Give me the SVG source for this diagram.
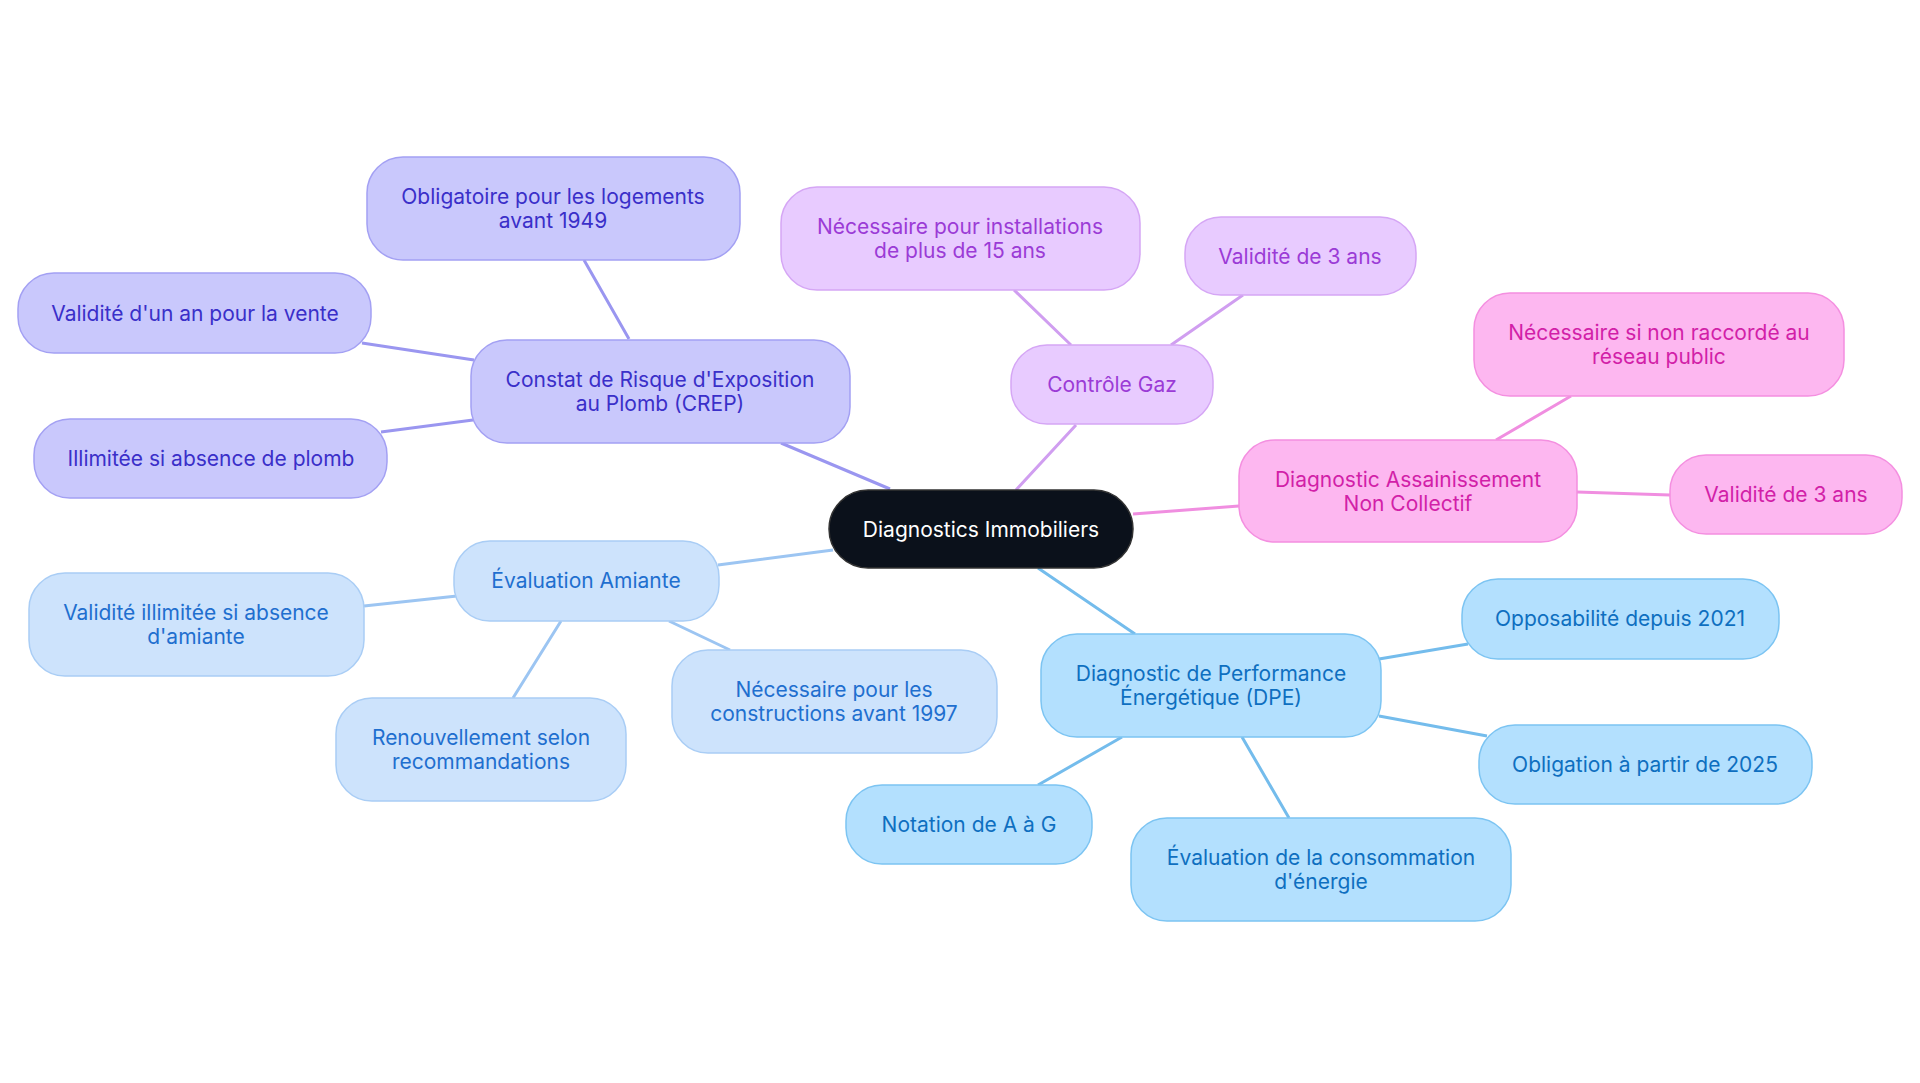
<svg xmlns="http://www.w3.org/2000/svg" width="1920" height="1083" viewBox="0 0 1920 1083">
<style>
text{font-family:Inter,"Noto Sans",sans-serif;font-size:21px;text-anchor:middle;dominant-baseline:central}
.e{fill:none;stroke-width:3}
.a rect{fill:#c9c8fc;stroke:#a3a0f3;stroke-width:1.5}.a text{fill:#3a2fc9}
.g rect{fill:#e8cbff;stroke:#d5a6f5;stroke-width:1.5}.g text{fill:#9b3bd6}
.p rect{fill:#fdb7f0;stroke:#f48fe0;stroke-width:1.5}.p text{fill:#d21fa8}
.m rect{fill:#cde3fc;stroke:#a9cdf5;stroke-width:1.5}.m text{fill:#1f6fcf}
.d rect{fill:#b3e0fe;stroke:#7cc4f2;stroke-width:1.5}.d text{fill:#0e6fc0}
</style>
<rect width="1920" height="1083" fill="#fff"/>
<g id="connectors">
<g stroke="#9a96f0" class="e"><path d="M890 489L781 443M629 339L584 260M474 360L362 343M473 420L381 432" class="e"/></g>
<g stroke="#d09ef0"><path d="M1016 490L1076 425M1071 345L1014 290M1171 345L1243 295" class="e"/></g>
<g stroke="#f08ee0"><path d="M1133 514L1239 506M1496 440L1571 396M1577 492L1670 495" class="e"/></g>
<g stroke="#9cc5f2"><path d="M833 550L718 565M457 596L364 606M561 621L513 698M669 621L730 650" class="e"/></g>
<g stroke="#74bcec"><path d="M1038 568L1135 634M1379 659L1468 644M1379 716L1487 736M1122 737L1038 785M1242 737L1289 818" class="e"/></g>
</g>
<g id="center"><rect x="829" y="490" width="304" height="78" rx="39" fill="#0b111b" stroke="#333" stroke-width="1.5"/><text x="981" y="529" fill="#fff" font-size="22">Diagnostics Immobiliers</text></g>
<g id="crep" class="a"><rect x="471" y="340" width="379" height="103" rx="36"/><text x="660" y="379">Constat de Risque d'Exposition</text><text x="660" y="403">au Plomb (CREP)</text></g>
<g id="crep1" class="a"><rect x="367" y="157" width="373" height="103" rx="36"/><text x="553" y="196">Obligatoire pour les logements</text><text x="553" y="220">avant 1949</text></g>
<g id="crep2" class="a"><rect x="18" y="273" width="353" height="80" rx="36"/><text x="195" y="313">Validité d'un an pour la vente</text></g>
<g id="crep3" class="a"><rect x="34" y="419" width="353" height="79" rx="36"/><text x="211" y="458">Illimitée si absence de plomb</text></g>
<g id="gaz" class="g"><rect x="1011" y="345" width="202" height="79" rx="36"/><text x="1112" y="384">Contrôle Gaz</text></g>
<g id="gaz1" class="g"><rect x="781" y="187" width="359" height="103" rx="36"/><text x="960" y="226">Nécessaire pour installations</text><text x="960" y="250">de plus de 15 ans</text></g>
<g id="gaz2" class="g"><rect x="1185" y="217" width="231" height="78" rx="36"/><text x="1300" y="256">Validité de 3 ans</text></g>
<g id="anc" class="p"><rect x="1239" y="440" width="338" height="102" rx="36"/><text x="1408" y="479">Diagnostic Assainissement</text><text x="1408" y="503">Non Collectif</text></g>
<g id="anc1" class="p"><rect x="1474" y="293" width="370" height="103" rx="36"/><text x="1659" y="332">Nécessaire si non raccordé au</text><text x="1659" y="356">réseau public</text></g>
<g id="anc2" class="p"><rect x="1670" y="455" width="232" height="79" rx="36"/><text x="1786" y="494">Validité de 3 ans</text></g>
<g id="amiante" class="m"><rect x="454" y="541" width="265" height="80" rx="36"/><text x="586" y="580">Évaluation Amiante</text></g>
<g id="am1" class="m"><rect x="29" y="573" width="335" height="103" rx="36"/><text x="196" y="612">Validité illimitée si absence</text><text x="196" y="636">d'amiante</text></g>
<g id="am2" class="m"><rect x="336" y="698" width="290" height="103" rx="36"/><text x="481" y="737">Renouvellement selon</text><text x="481" y="761">recommandations</text></g>
<g id="am3" class="m"><rect x="672" y="650" width="325" height="103" rx="36"/><text x="834" y="689">Nécessaire pour les</text><text x="834" y="713">constructions avant 1997</text></g>
<g id="dpe" class="d"><rect x="1041" y="634" width="340" height="103" rx="36"/><text x="1211" y="673">Diagnostic de Performance</text><text x="1211" y="697">Énergétique (DPE)</text></g>
<g id="dpe1" class="d"><rect x="1462" y="579" width="317" height="80" rx="36"/><text x="1620" y="618">Opposabilité depuis 2021</text></g>
<g id="dpe2" class="d"><rect x="1479" y="725" width="333" height="79" rx="36"/><text x="1645" y="764">Obligation à partir de 2025</text></g>
<g id="dpe3" class="d"><rect x="846" y="785" width="246" height="79" rx="36"/><text x="969" y="824">Notation de A à G</text></g>
<g id="dpe4" class="d"><rect x="1131" y="818" width="380" height="103" rx="36"/><text x="1321" y="857">Évaluation de la consommation</text><text x="1321" y="881">d'énergie</text></g>
</svg>
